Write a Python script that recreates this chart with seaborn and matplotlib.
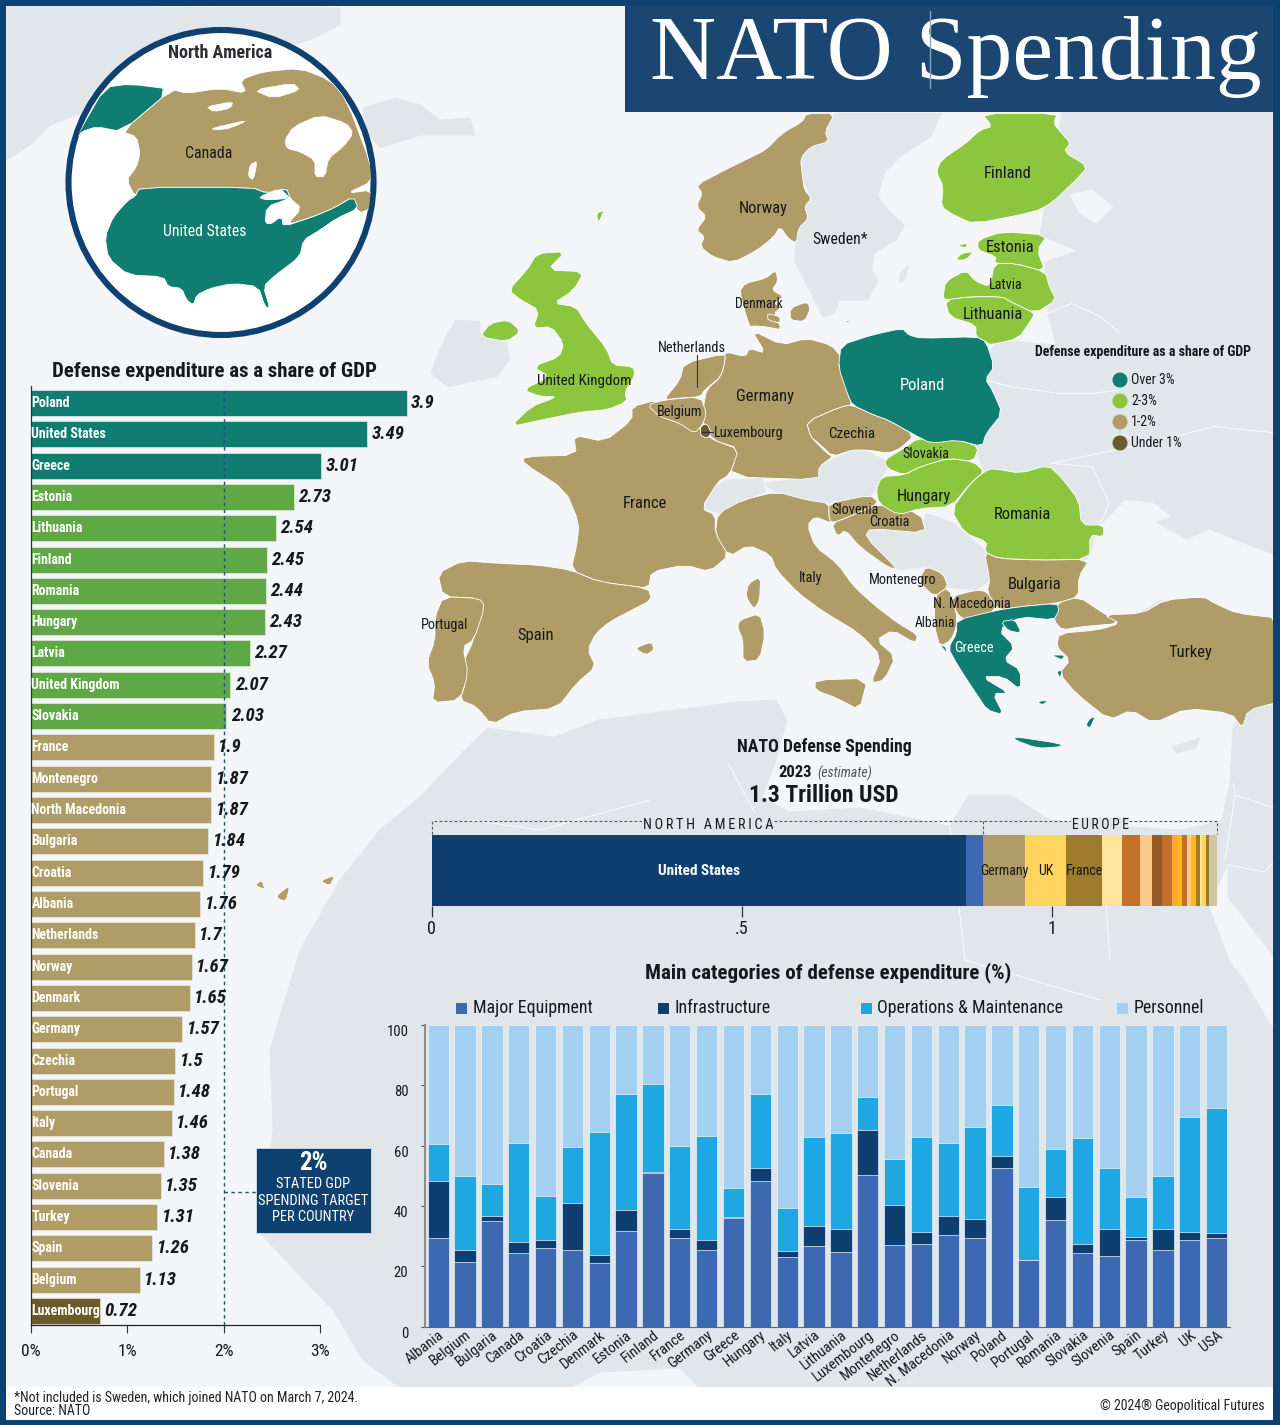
import matplotlib

matplotlib.use("Agg")
import matplotlib.pyplot as plt
import numpy as np
import seaborn as sns
from matplotlib import font_manager
from matplotlib.patches import Circle, Polygon, Rectangle

# share of GDP chart
gdp_countries = ["Poland", "United States", "Greece", "Estonia", "Lithuania", "Finland", "Romania", "Hungary",
                 "Latvia", "United Kingdom", "Slovakia", "France", "Montenegro", "North Macedonia", "Bulgaria",
                 "Croatia", "Albania", "Netherlands", "Norway", "Denmark", "Germany", "Czechia", "Portugal",
                 "Italy", "Canada", "Slovenia", "Turkey", "Spain", "Belgium", "Luxembourg"]
gdp_share = [3.9, 3.49, 3.01, 2.73, 2.54, 2.45, 2.44, 2.43, 2.27, 2.07, 2.03, 1.9, 1.87, 1.87, 1.84,
             1.79, 1.76, 1.7, 1.67, 1.65, 1.57, 1.5, 1.48, 1.46, 1.38, 1.35, 1.31, 1.26, 1.13, 0.72]
gdp_band = ["over3"] * 3 + ["2to3"] * 8 + ["1to2"] * 18 + ["under1"]
band_colors = {"over3": "#0f7d72", "2to3": "#5fa845", "1to2": "#b09c66", "under1": "#6b5a2c"}

# total spending strip, only the labelled segments have a name in the picture
total_names = ["United States", "", "Germany", "UK", "France"] + [""] * 15
total_values = [0.861, 0.0285, 0.0677, 0.0656, 0.0574, 0.0322, 0.029, 0.0193, 0.0161, 0.0161,
                0.0081, 0.0092, 0.0069, 0.0076, 0.0069, 0.0064, 0.0044, 0.0064, 0.0037, 0.0129]
total_colors = ["#0f3f70", "#3c69b2", "#b09c66", "#ffd560", "#9e7a2c", "#ffe49c", "#c5702a", "#ffc98c",
                "#985a24", "#c5702a", "#ffa736", "#ffbb12", "#c5702a", "#ffc98c", "#ffbb12", "#9e7a2c",
                "#ffe49c", "#ffd560", "#9e7a2c", "#d0c6a3"]

# categories chart
cat_countries = ["Albania", "Belgium", "Bulgaria", "Canada", "Croatia", "Czechia", "Denmark", "Estonia",
                 "Finland", "France", "Germany", "Greece", "Hungary", "Italy", "Latvia", "Lithuania",
                 "Luxembourg", "Montenegro", "Netherlands", "N. Macedonia", "Norway", "Poland", "Portugal",
                 "Romania", "Slovakia", "Slovenia", "Spain", "Turkey", "UK", "USA"]
equipment = [29.2, 21.5, 35.1, 24.5, 26.2, 25.5, 20.9, 31.8, 50.9, 29.2, 25.3, 36.1, 48.4, 23.2, 26.6,
             24.6, 50.4, 26.9, 27.2, 30.5, 29.4, 52.5, 22.2, 35.2, 24.4, 23.5, 28.7, 25.5, 28.6, 29.5]
infrastructure = [19.1, 3.8, 1.6, 3.5, 2.6, 15.3, 2.9, 7.0, 0.5, 3.3, 3.5, 0.3, 4.3, 1.7, 6.8,
                  7.6, 14.9, 13.5, 4.3, 6.0, 6.1, 4.2, 0.0, 7.9, 2.8, 8.7, 1.0, 7.0, 2.6, 1.4]
operations = [12.1, 24.6, 10.5, 32.9, 14.5, 18.6, 40.7, 38.3, 29.0, 27.4, 34.4, 9.6, 24.5, 14.3, 29.5,
              32.0, 10.9, 15.2, 31.4, 24.4, 30.8, 16.7, 24.1, 15.8, 35.3, 20.3, 13.2, 17.3, 38.2, 41.5]
personnel = [39.6, 50.1, 52.8, 39.1, 56.7, 40.6, 35.5, 22.9, 19.6, 40.1, 36.8, 54.0, 22.8, 60.8, 37.1,
             35.8, 23.8, 44.4, 37.1, 39.1, 33.7, 26.6, 53.7, 41.1, 37.5, 47.5, 57.1, 50.2, 30.6, 27.6]
cat_names = ["Major Equipment", "Infrastructure", "Operations & Maintenance", "Personnel"]
cat_colors = ["#3c69b2", "#0f3f70", "#1ea7e1", "#a3cff0"]

# map outlines in crop units
TAN, GREEN, TEAL, BROWN, GREY = "#b09c66", "#8cc63f", "#0f7d72", "#6b5a2c", "#e1e6ea"
SEA = "#f3f5f9"
NAVY = "#0f4170"


def north(pts):
    return [(480 + x / 2.45, 100 + y / 3) for x, y in pts]


def south(pts):
    return [(410 + x / 1.802, 400 + y / 3) for x, y in pts]


def inset(pts):
    return [(x / 3, y / 3) for x, y in pts]


def rounded(pts, passes=1):
    # corner cutting so the hand-read outlines do not look like polygons
    arr = np.array(pts, dtype=float)
    for _ in range(passes):
        nxt = np.roll(arr, -1, axis=0)
        arr = np.column_stack([0.8 * arr + 0.2 * nxt, 0.2 * arr + 0.8 * nxt]).reshape(-1, 2)
    return arr


grey_land = [
    [(6, 6), (340, 8), (340, 25), (310, 40), (240, 60), (150, 90), (90, 110), (50, 125), (30, 145), (6, 160)],
    [(363, 108), (395, 98), (420, 105), (440, 120), (470, 118), (475, 135), (420, 135), (380, 148), (365, 130)],
    [(1062, 112), (1280, 112), (1280, 700), (1240, 690), (1100, 600), (1060, 560), (1000, 520), (960, 400), (925, 395),
     (930, 372), (975, 368), (1000, 340), (1056, 345), (1045, 300), (1045, 262), (1078, 251), (1040, 235)],
    [(488, 728), (554, 737), (599, 720), (737, 702), (776, 700), (787, 720), (776, 760), (762, 798), (790, 812),
     (860, 808), (950, 826), (969, 795), (1010, 795), (1050, 820), (1100, 825), (1180, 830), (1213, 823), (1222, 820),
     (1230, 783), (1233, 727), (1240, 712), (1280, 700), (1280, 1388), (700, 1388), (680, 1368), (600, 1372),
     (570, 1388), (400, 1388), (363, 1360), (333, 1310), (290, 1265), (262, 1235), (273, 1130), (270, 1050),
     (300, 950), (340, 880), (380, 830), (420, 797), (470, 745)],
    north([(870, 40), (1130, 40), (1105, 110), (1030, 170), (990, 220), (975, 290), (1000, 330), (1040, 375),
           (1020, 420), (965, 460), (960, 510), (975, 540), (950, 600), (880, 600), (870, 640), (840, 650),
           (815, 590), (770, 480), (775, 430), (780, 385), (805, 355), (795, 320), (812, 295), (790, 230),
           (785, 175), (810, 140), (855, 125), (845, 95)]),
    north([(1030, 520), (1050, 497), (1040, 540), (1028, 548)]),
    north([(-100, 750), (-60, 660), (0, 665), (0, 705), (65, 725), (72, 780), (40, 830), (-80, 860), (-120, 820)]),
    south([(733, 200), (780, 165), (810, 145), (855, 180), (860, 205), (850, 230), (840, 270), (830, 285),
           (755, 310), (715, 300), (660, 275), (635, 250), (735, 230)]),
    south([(525, 320), (530, 285), (570, 240), (635, 235), (640, 275), (600, 300), (600, 330), (555, 340)]),
    south([(830, 385), (920, 390), (930, 340), (980, 370), (1000, 400), (1050, 470), (1045, 540), (1020, 570),
           (960, 560), (960, 520), (930, 500), (880, 510), (820, 410)]),
    [(1172, 747), (1200, 738), (1195, 748), (1177, 753)],
]
sea_patches = [
    south([(1240, 385), (1290, 300), (1340, 310), (1370, 350), (1340, 365), (1400, 420), (1440, 390), (1530, 450),
           (1568, 470), (1568, 655), (1490, 640), (1440, 600), (1350, 600), (1300, 650), (1250, 630), (1205, 590),
           (1200, 510), (1225, 470)]),
    north([(1445, 285), (1500, 270), (1550, 320), (1510, 370), (1470, 340)]),
    [(1220, 883), (1227, 867), (1227, 897), (1273, 957), (1280, 960), (1280, 1030), (1270, 1023), (1247, 983),
     (1230, 960), (1210, 907)],
]
grey_borders = [
    south([(1155, 190), (1230, 200), (1260, 310), (1240, 385)]),
    south([(1155, 190), (1300, 140), (1450, 80), (1568, 100)]),
    north([(1240, 840), (1300, 860), (1420, 880), (1500, 880), (1568, 870)]),
    north([(1360, 655), (1450, 610), (1520, 650), (1568, 700)]),
    [(470, 820), (540, 830), (650, 800)],
    [(728, 763), (755, 813)],
    [(950, 826), (965, 960), (1100, 1000)],
    [(1100, 825), (1110, 960)],
    [(1233, 783), (1235, 795), (1225, 860)],
    [(1235, 795), (1280, 810)],
    [(1228, 865), (1265, 872), (1280, 855)],
]
tan_land = [
    south([(400, 20), (445, 0), (440, 30), (475, 65), (525, 85), (540, 115), (595, 150), (575, 225), (555, 245),
           (525, 325), (550, 345), (550, 400), (575, 465), (540, 515), (495, 495), (435, 515), (430, 565), (385, 555),
           (340, 545), (290, 510), (300, 440), (305, 370), (280, 270), (205, 190), (205, 170), (300, 165), (295, 105),
           (350, 125), (400, 60)]),
    south([(50, 520), (95, 482), (160, 490), (230, 495), (290, 510), (340, 545), (430, 565), (435, 600), (400, 630),
           (360, 665), (335, 700), (320, 750), (335, 800), (300, 850), (265, 925), (190, 935), (147, 975), (120, 920),
           (90, 900), (100, 850), (95, 790), (115, 720), (125, 630), (125, 595), (60, 590)]),
    south([(60, 590), (125, 595), (135, 620), (115, 720), (95, 740), (105, 820), (90, 900), (40, 908), (45, 850),
           (30, 790), (45, 720), (45, 650)]),
    north([(600, 755), (650, 770), (660, 745), (700, 760), (665, 690), (740, 735), (800, 715), (860, 735), (885, 770),
           (878, 800), (895, 830), (900, 880), (912, 915), (885, 920), (800, 965), (810, 1010), (850, 1060), (865, 1070),
           (830, 1100), (830, 1140), (610, 1130), (635, 1045), (570, 1020), (545, 965), (548, 915), (555, 870),
           (590, 830), (600, 785)]),
    north([(500, 790), (600, 760), (600, 785), (590, 830), (550, 870), (540, 890), (480, 895), (450, 900), (490, 840)]),
    north([(410, 915), (450, 900), (540, 890), (555, 940), (545, 975), (525, 1000), (490, 970), (440, 950)]),
    north([(800, 965), (885, 920), (912, 915), (965, 945), (1000, 960), (1065, 1005), (1030, 1045), (1000, 1060),
           (950, 1050), (910, 1050), (865, 1070), (830, 1030), (810, 1010)]),
    north([(660, 680), (635, 575), (650, 550), (700, 535), (725, 510), (730, 545), (715, 570), (745, 590), (720, 610),
           (740, 620), (720, 640), (740, 690), (700, 680), (670, 678)]),
    north([(760, 625), (800, 605), (810, 625), (795, 665), (760, 660)]),
    north([(705, 640), (735, 650), (735, 670), (705, 660)]),
    north([(895, 660), (908, 665), (900, 670)]),
    north([(800, 40), (870, 40), (845, 95), (855, 125), (810, 140), (785, 175), (790, 230), (795, 270), (812, 295),
           (795, 320), (805, 355), (780, 385), (775, 430), (755, 415), (735, 380), (720, 410), (680, 450), (620, 488),
           (570, 470), (540, 440), (550, 410), (530, 390), (555, 350), (530, 320), (545, 280), (530, 255), (600, 210),
           (650, 180), (700, 150), (740, 100), (790, 65)]),
    south([(555, 340), (600, 300), (660, 275), (715, 300), (755, 310), (755, 350), (760, 370), (730, 350), (716, 375),
           (730, 440), (770, 490), (800, 560), (840, 620), (880, 670), (915, 705), (910, 730), (870, 690), (840, 720),
           (875, 770), (855, 840), (830, 850), (850, 770), (810, 700), (745, 635), (700, 580), (660, 510), (650, 465),
           (610, 435), (575, 470), (550, 400)]),
    south([(730, 840), (825, 835), (810, 930), (770, 895), (730, 870)]),
    south([(595, 660), (630, 640), (640, 700), (630, 780), (600, 785), (600, 720), (590, 680)]),
    south([(610, 550), (632, 530), (630, 600), (620, 628), (605, 590)]),
    south([(405, 745), (435, 725), (440, 750), (425, 765)]),
    south([(755, 310), (830, 285), (845, 310), (800, 345), (760, 370), (755, 350)]),
    south([(800, 345), (845, 310), (920, 340), (930, 400), (830, 385), (820, 410), (880, 510), (860, 500), (810, 440),
           (785, 390), (770, 410), (760, 370)]),
    south([(920, 530), (930, 500), (960, 520), (970, 560), (945, 590), (920, 550)]),
    south([(945, 590), (970, 560), (985, 640), (985, 680), (975, 720), (955, 740), (945, 680)]),
    south([(975, 590), (1020, 570), (1040, 575), (1060, 630), (1000, 660), (985, 640)]),
    south([(1035, 455), (1060, 475), (1130, 480), (1225, 478), (1205, 530), (1205, 590), (1165, 610), (1100, 620),
           (1060, 630), (1040, 575), (1045, 540)]),
    south([(1165, 610), (1205, 590), (1250, 640), (1280, 670), (1210, 680), (1175, 690), (1160, 660)]),
    south([(1170, 700), (1240, 690), (1280, 670), (1250, 645), (1320, 640), (1360, 600), (1430, 590), (1450, 610),
           (1490, 640), (1568, 655), (1568, 905), (1510, 930), (1500, 985), (1480, 940), (1400, 925), (1340, 970),
           (1300, 930), (1260, 960), (1200, 880), (1170, 820), (1190, 780), (1165, 740)]),
    [(255, 885), (262, 880), (265, 890)],
    [(275, 897), (290, 885), (286, 902)],
    [(320, 881), (335, 875), (330, 886)],
]
green_land = [
    north([(1230, 40), (1415, 40), (1405, 70), (1425, 100), (1447, 130), (1430, 155), (1490, 200), (1460, 240),
           (1400, 310), (1360, 335), (1210, 372), (1160, 345), (1130, 320), (1135, 260), (1118, 215), (1130, 180),
           (1190, 130), (1225, 90), (1255, 80)]),
    north([(1140, 600), (1200, 590), (1280, 590), (1300, 605), (1360, 640), (1350, 660), (1320, 715), (1250, 735),
           (1240, 725), (1215, 710), (1215, 675), (1150, 650)]),
    north([(1135, 590), (1140, 545), (1190, 510), (1215, 545), (1250, 560), (1260, 490), (1310, 490), (1385, 515),
           (1395, 560), (1412, 600), (1360, 640), (1300, 605), (1280, 590), (1200, 590), (1140, 600)]),
    north([(1220, 420), (1280, 395), (1390, 405), (1365, 450), (1385, 515), (1310, 490), (1260, 490), (1265, 470),
           (1220, 450)]),
    north([(1165, 480), (1180, 460), (1210, 455), (1190, 480)]),
    north([(1170, 435), (1195, 430), (1190, 445)]),
    north([(140, 460), (210, 455), (165, 510), (255, 515), (230, 570), (180, 610), (235, 620), (260, 670), (310, 745),
           (325, 795), (375, 800), (380, 825), (355, 875), (360, 905), (310, 930), (250, 935), (150, 960), (75, 980),
           (125, 920), (190, 890), (150, 890), (105, 870), (170, 830), (130, 800), (195, 770), (205, 730), (175, 680),
           (130, 685), (145, 630), (100, 600), (70, 570), (115, 510)]),
    north([(25, 670), (70, 660), (100, 695), (65, 725), (0, 710)]),
    north([(285, 340), (305, 330), (290, 370)]),
    south([(855, 180), (890, 145), (915, 115), (945, 125), (985, 118), (1025, 140), (1015, 185), (970, 175), (920, 200),
           (890, 225), (860, 205)]),
    south([(850, 230), (890, 225), (920, 200), (970, 175), (1015, 185), (1035, 215), (1010, 250), (975, 320), (920, 325),
           (880, 345), (845, 310), (840, 270)]),
    south([(1035, 215), (1050, 205), (1100, 220), (1150, 195), (1175, 235), (1205, 300), (1210, 375), (1250, 375),
           (1250, 410), (1225, 405), (1225, 478), (1130, 480), (1060, 475), (1035, 455), (1040, 425), (1000, 400),
           (975, 330), (1010, 250)]),
]
teal_land = [
    north([(885, 735), (960, 705), (1035, 685), (1050, 705), (1080, 715), (1215, 710), (1240, 725), (1260, 800),
           (1238, 838), (1255, 870), (1280, 940), (1240, 1000), (1230, 1040), (1170, 1020), (1105, 1030), (1065, 1005),
           (1000, 960), (965, 945), (912, 915), (900, 880), (878, 800)]),
    south([(985, 660), (1060, 630), (1100, 620), (1165, 610), (1170, 630), (1160, 660), (1100, 650), (1060, 690),
           (1090, 740), (1070, 780), (1100, 810), (1100, 870), (1070, 830), (1030, 830), (1080, 880), (1050, 880),
           (1070, 945), (1040, 930), (1020, 880), (1000, 830), (985, 790), (970, 745), (985, 700)]),
    south([(1065, 665), (1090, 658), (1102, 700), (1078, 692)]),
    south([(1090, 1010), (1170, 1030), (1175, 1040), (1130, 1045), (1090, 1020)]),
    south([(1225, 955), (1235, 950), (1225, 985), (1218, 975)]),
    south([(1155, 765), (1180, 765), (1175, 780)]),
    south([(1130, 905), (1150, 900), (1140, 915)]),
    south([(1165, 815), (1175, 810), (1172, 835)]),
    south([(955, 735), (965, 740), (968, 760)]),
]
brown_land = [north([(540, 980), (555, 970), (568, 1000), (555, 1015), (540, 1005)])]

circle_white_holes = [
    inset([(855, 420), (880, 380), (960, 345), (1040, 370), (1060, 400), (1030, 440), (985, 475), (975, 530),
           (945, 530), (945, 480), (900, 455), (860, 445)]),
    inset([(620, 320), (700, 305), (690, 325), (640, 335)]),
    inset([(635, 385), (745, 360), (690, 385), (645, 390)]),
    inset([(750, 495), (772, 483), (760, 540), (745, 530)]),
    inset([(760, 270), (880, 250), (900, 270), (820, 295)]),
    inset([(775, 592), (840, 565), (870, 595), (800, 600)]),
    inset([(795, 670), (830, 610), (865, 600), (860, 625), (820, 670)]),
]
alaska = inset([(235, 400), (315, 262), (390, 252), (515, 268), (365, 395), (290, 380), (245, 395), (235, 410)])
canada = inset([(515, 268), (560, 280), (660, 265), (740, 280), (720, 240), (790, 215), (900, 205), (990, 240),
                (1040, 300), (1115, 500), (1115, 545), (1040, 580), (1115, 570), (1115, 625), (1075, 640), (1060, 590),
                (1000, 625), (940, 650), (860, 675), (905, 625), (870, 595), (860, 565), (800, 580), (755, 562),
                (420, 562), (405, 590), (380, 540), (410, 500), (420, 460), (410, 410), (365, 395)])
usa = inset([(420, 562), (755, 562), (800, 580), (860, 565), (870, 595), (800, 620), (795, 675), (845, 650), (850, 680),
             (940, 650), (1000, 625), (1060, 590), (1075, 625), (1010, 655), (960, 690), (910, 720), (900, 770),
             (820, 830), (790, 860), (810, 925), (795, 920), (775, 860), (700, 850), (630, 865), (590, 885), (580, 915),
             (560, 900), (545, 865), (505, 860), (490, 830), (385, 825), (325, 775), (315, 710), (340, 650), (385, 600),
             (405, 590)])

map_labels = [("Finland", 1008, 173, 11.5), ("Norway", 763, 208, 11.5), ("Sweden*", 840, 239, 11), ("Estonia", 1010, 247, 11.5),
              ("Latvia", 1006, 285, 10), ("Lithuania", 993, 314, 11.5), ("Denmark", 759, 304, 9.5),
              ("Netherlands", 692, 348, 10), ("Germany", 765, 396, 11.5), ("United Kingdom", 584, 381, 10.5),
              ("Belgium", 680, 412, 10), ("Luxembourg", 749, 433, 10), ("Czechia", 852, 434, 10.5),
              ("Slovakia", 926, 454, 10), ("Hungary", 924, 496, 11.5), ("Romania", 1022, 514, 11.5),
              ("France", 645, 503, 11.5), ("Slovenia", 855, 510, 10), ("Croatia", 889, 522, 10), ("Italy", 811, 578, 10),
              ("Montenegro", 903, 580, 10), ("Bulgaria", 1035, 584, 11.5), ("N. Macedonia", 972, 604, 10),
              ("Albania", 935, 623, 9.5), ("Portugal", 445, 625, 10), ("Spain", 536, 635, 11.5), ("Turkey", 1190, 652, 11.5),
              ("Canada", 209, 153, 11), ]
map_labels_white = [("Poland", 922, 385, 11.5), ("Greece", 974, 648, 10), ("United States", 205, 231, 11)]

W, H = 1280, 1425
sns.set_theme(style="white")
names = {f.name for f in font_manager.fontManager.ttflist}
BODY = "Roboto Condensed" if "Roboto Condensed" in names else "Roboto"
plt.rcParams["font.family"] = [BODY, "DejaVu Sans"]
INK = "#16181c"

fig = plt.figure(figsize=(W / 100, H / 100), dpi=100, facecolor=SEA)


def px_axes(left, top, right, bottom, **kw):
    return fig.add_axes([left / W, 1 - bottom / H, (right - left) / W, (bottom - top) / H], **kw)


# backdrop, in picture pixels
bg = px_axes(0, 0, W, H)
bg.set_xlim(0, W)
bg.set_ylim(H, 0)
bg.axis("off")
bg.set_facecolor(SEA)


def fill(outlines, color, z=1, edge="white", lw=0.6, clip=None, soften=True):
    for pts in outlines:
        verts = rounded(pts) if soften else pts
        p = Polygon(verts, closed=True, facecolor=color, edgecolor=edge, linewidth=lw, zorder=z)
        bg.add_patch(p)
        if clip is not None:
            p.set_clip_path(clip)


fill(grey_land, GREY, z=1, edge=GREY, soften=False)
fill(sea_patches, SEA, z=1.1, edge=SEA, soften=False)
for pts in grey_borders:
    xs, ys = zip(*pts)
    bg.plot(xs, ys, color="white", lw=0.6, zorder=1.2)
fill(tan_land, TAN, z=2)
fill(green_land, GREEN, z=2)
fill(teal_land, TEAL, z=2)
fill(brown_land, BROWN, z=3)

# inset globe
ring = Circle((221, 182.5), 152.5, facecolor="white", edgecolor=NAVY, linewidth=4.4, zorder=4)
bg.add_patch(ring)
clip_disc = Circle((221, 182.5), 150, transform=bg.transData)
fill([canada], TAN, z=5, clip=clip_disc)
fill([alaska, usa], TEAL, z=5.1, clip=clip_disc)
fill(circle_white_holes, "white", z=5.2, edge="white", clip=clip_disc)

bg.add_patch(Rectangle((625, 6), 655, 106, facecolor="#1c4672", edgecolor="none", zorder=6))
bg.text(650, 79, "NATO Spending", family="Liberation Serif", fontsize=66, color="white", va="baseline", zorder=7)
bg.plot([930, 930], [11, 88], color="#8ba3bd", lw=1, zorder=8)

# frame and footer
bg.add_patch(Rectangle((6, 1387), W - 12, 33, facecolor="white", edgecolor="none", zorder=6))
for r in [(0, 0, W, 6), (0, 0, 6, H), (W - 7, 0, 7, H), (0, 1420, W, 5)]:
    bg.add_patch(Rectangle(r[:2], r[2], r[3], facecolor=NAVY, edgecolor="none", zorder=9))

for name, x, y, fs in map_labels:
    bg.text(x, y, name, ha="center", va="center", fontsize=fs * 1.03, color=INK, zorder=10)
for name, x, y, fs in map_labels_white:
    bg.text(x, y, name, ha="center", va="center", fontsize=fs * 1.03, color="white", zorder=10)
bg.text(220, 53, "North America", ha="center", va="center", fontsize=13, fontweight="bold", color="#2b2d30", zorder=10)
bg.plot([697, 697], [355, 387], color="#333333", lw=0.8, zorder=10)
bg.plot([702, 713], [432, 432], color="#333333", lw=0.8, zorder=10)

# map legend
bg.text(1143, 352, "Defense expenditure as a share of GDP", ha="center", va="center", fontsize=10, fontweight="bold",
        color=INK, zorder=10)
for label, col, y in zip(["Over 3%", "2-3%", "1-2%", "Under 1%"], [TEAL, GREEN, TAN, BROWN], [380, 401, 422, 443]):
    bg.add_patch(Circle((1120, y), 7.5, facecolor=col, edgecolor="none", zorder=10))
    bg.text(1131, y, label, va="center", fontsize=10, color=INK, zorder=10)

# share of GDP bars
ax = px_axes(31, 386, 416.2, 1325)
ax.patch.set_alpha(0)
sns.barplot(x=gdp_share, y=gdp_countries, hue=gdp_band, palette=band_colors, dodge=False, legend=False, saturation=1,
            width=0.83, edgecolor="#e8e8e0", linewidth=0.5, orient="h", ax=ax, zorder=2)
ax.set_xlim(0, 4)
ax.set_ylim(29.447, -0.543)
ax.axvline(2, ymax=0.995, color="#234f80", lw=1, ls=(0, (2.5, 2.5)), zorder=3)
for i, (name, val) in enumerate(zip(gdp_countries, gdp_share)):
    ax.text(0.005, i, name, va="center", fontsize=10, fontweight="bold", color="white", zorder=4)
    ax.annotate(f"{val:g}", (val, i), xytext=(3.2, 0), textcoords="offset points", va="center",
                fontsize=13.5, fontweight="bold", style="italic", color=INK, zorder=4)
ax.set_ylabel("")
ax.set_yticks([])
ax.set_xticks([0, 1, 2, 3])
ax.set_xticklabels(["0%", "1%", "2%", "3%"], fontsize=12.5, color=INK)
ax.tick_params(axis="x", length=6, width=0.8, color="#333333", pad=8, bottom=True)
for s in ["top", "right"]:
    ax.spines[s].set_visible(False)
ax.spines["left"].set_color("#333333")
ax.spines["left"].set_linewidth(0.9)
ax.spines["bottom"].set_color("#222222")
ax.spines["bottom"].set_linewidth(0.9)
ax.spines["bottom"].set_bounds(0, 3)
bg.text(214, 371, "Defense expenditure as a share of GDP", ha="center", va="center", fontsize=15,
        fontweight="bold", color=INK, zorder=10)

# 2% callout
bg.plot([223.5, 256], [1192, 1192], color="#234f80", lw=1, ls=(0, (2.5, 2.5)), zorder=10)
bg.add_patch(Rectangle((256, 1148), 115, 85, facecolor=NAVY, edgecolor="#c8d3df", linewidth=0.7, zorder=10))
bg.text(313.5, 1163, "2%", ha="center", va="center", fontsize=18, fontweight="bold", color="white", zorder=11)
for line, y in zip(["STATED GDP", "SPENDING TARGET", "PER COUNTRY"], [1184, 1201, 1217]):
    bg.text(313.5, y, line, ha="center", va="center", fontsize=10.4, color="white", zorder=11)

# total spending strip
bg.text(824, 747, "NATO Defense Spending", ha="center", va="center", fontsize=12.8, fontweight="bold", color=INK, zorder=10)
bg.text(812, 772, "2023", ha="right", va="center", fontsize=12, fontweight="bold", color=INK, zorder=10)
bg.text(817, 773, "(estimate)", ha="left", va="center", fontsize=10, style="italic", color="#555555", zorder=10)
bg.text(824, 795, "1.3 Trillion USD", ha="center", va="center", fontsize=17, fontweight="bold", color=INK, zorder=10)

strip = px_axes(431.5, 835, 431.5 + 620.5 * 1.3, 906)
strip.patch.set_alpha(0)
edges = np.cumsum([0] + total_values)
for left, width, col, name in zip(edges[:-1], total_values, total_colors, total_names):
    strip.barh(0, width, left=left, height=1, color=col, linewidth=0)
    if name:
        is_us = name == "United States"
        strip.text(left + width / 2, 0, name, ha="center", va="center", fontsize=11 if is_us else 10,
                   fontweight="bold" if is_us else "normal", color="white" if is_us else INK)
strip.set_xlim(0, 1.3)
strip.set_ylim(-0.5, 0.5)
strip.set_yticks([])
strip.set_xticks([0, 0.5, 1])
strip.set_xticklabels(["0", ".5", "1"], fontsize=13, color=INK)
strip.tick_params(axis="x", length=8, width=0.9, color="#333333", pad=2, bottom=True)
sns.despine(ax=strip, left=True, bottom=True)

na_end = 431.5 + 620.5 * edges[2]
eu_end = 431.5 + 620.5 * edges[-1]
bg.plot([431.5, 431.5, eu_end, eu_end], [834, 821, 821, 834], color="#555555", lw=0.8, ls=(0, (2.5, 2)), zorder=3)
bg.plot([na_end, na_end], [821, 834], color="#555555", lw=0.8, ls=(0, (2.5, 2)), zorder=3)
bg.text(708, 825, "\u2009".join("NORTH AMERICA"), ha="center", va="center", fontsize=10.2, color=INK, zorder=10,
        bbox=dict(facecolor=GREY, edgecolor="none", pad=0.6))
bg.text(1100, 825, "\u2009".join("EUROPE"), ha="center", va="center", fontsize=9.8, color=INK, zorder=10,
        bbox=dict(facecolor=GREY, edgecolor="none", pad=0.6))

# categories chart
cat = px_axes(425, 1025, 1230, 1326.5)
cat.patch.set_alpha(0)
stack = np.cumsum([equipment, infrastructure, operations, personnel], axis=0)
for top, col in zip(stack[::-1], cat_colors[::-1]):
    sns.barplot(x=cat_countries, y=top, color=col, width=0.795, edgecolor="#eef3f8", linewidth=0.5, ax=cat,
                saturation=1)
cat.set_xlim(-0.495, 29.5)
cat.set_ylim(0, 100)
cat.set_yticks(range(0, 101, 20))
cat.set_yticklabels(range(0, 101, 20), fontsize=10.5, color=INK, va="top")
cat.tick_params(axis="y", length=3, width=0.8, color="#555555", left=True, pad=9)
cat.tick_params(axis="x", length=0, pad=1)
cat.set_xticks(range(len(cat_countries)))
cat.set_xticklabels(cat_countries, rotation=38, ha="right", va="top", rotation_mode="anchor", fontsize=10.7, color=INK)
for s in ["top", "right"]:
    cat.spines[s].set_visible(False)
cat.spines["left"].set_color("#8a8f94")
cat.spines["left"].set_linewidth(1.5)
cat.spines["bottom"].set_color("#666666")
cat.spines["bottom"].set_linewidth(0.8)
cat.set_axisbelow(True)

bg.text(828, 973, "Main categories of defense expenditure (%)", ha="center", va="center", fontsize=15.1,
        fontweight="bold", color=INK, zorder=10)
for name, col, sx, tx in zip(cat_names, cat_colors, [456, 658, 861, 1117], [473, 675, 877, 1134]):
    bg.add_patch(Rectangle((sx, 1003), 10.5, 10.5, facecolor=col, edgecolor="none", zorder=10))
    bg.text(tx, 1008, name, va="center", fontsize=12.9, color=INK, zorder=10)

# footer text
bg.text(14, 1398, "*Not included is Sweden, which joined NATO on March 7, 2024.", va="center", fontsize=10, color="#222222", zorder=10)
bg.text(14, 1411, "Source: NATO", va="center", fontsize=10, color="#222222", zorder=10)
bg.text(1265, 1406, "\u00a9 2024\u00ae Geopolitical Futures", ha="right", va="center", fontsize=10, color="#222222", zorder=10)

fig.savefig("out.png", dpi=100, facecolor=SEA)
